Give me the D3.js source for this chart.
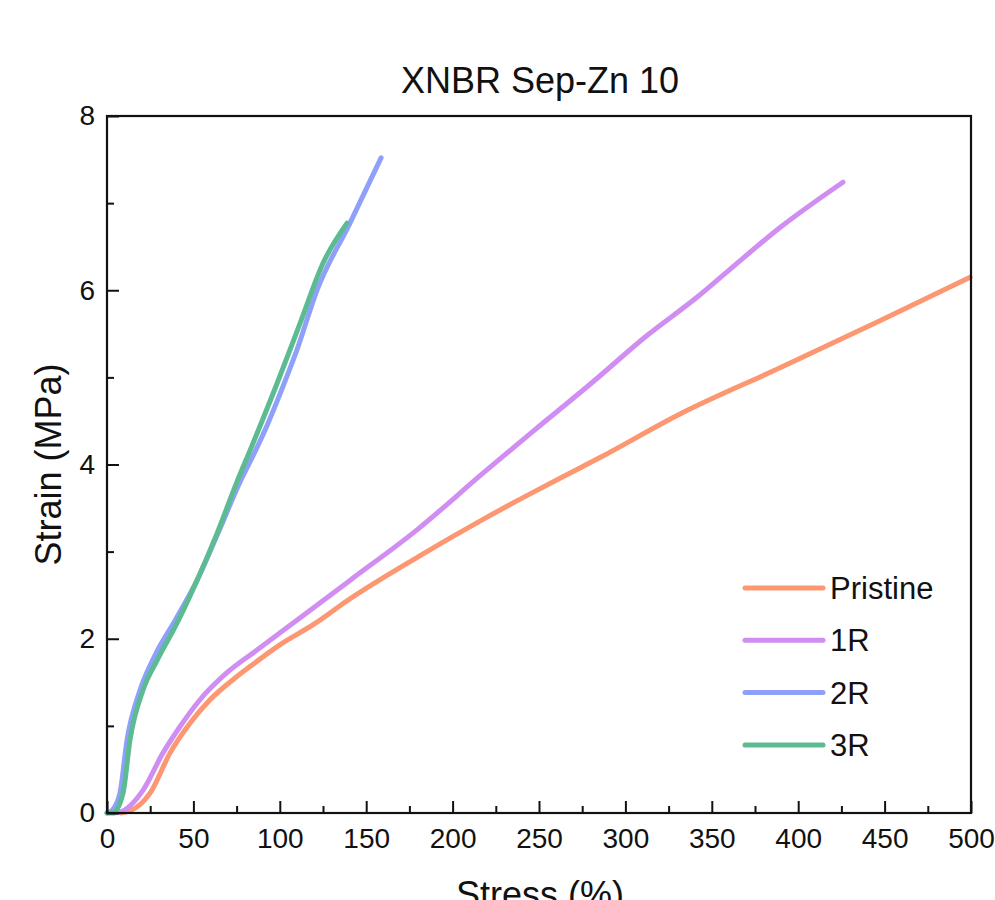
<!DOCTYPE html>
<html>
<head>
<meta charset="utf-8">
<script src="https://cdn.jsdelivr.net/npm/d3@7"></script>
<style>
  body { margin: 0; background: #fff; }
  text { font-family: "Liberation Sans", Arial, sans-serif; fill: #111; }
</style>
</head>
<body>
<div id="chart"></div>
<script>
// series names and colours
var seriesNames = ["Pristine", "1R", "2R", "3R"];
var seriesColors = ["#fc9772", "#d08ef3", "#8fa0fb", "#5cbb91"];

// stress (%) / strain (MPa)
var pristineX = [8, 13, 25, 36.5, 48, 59.6, 72.9, 84, 100, 120, 140, 180, 217.6, 246.5, 273.7, 285.3, 331.6, 389.5, 447.3, 499.5];
var pristineY = [0, 0.02, 0.23, 0.69, 1.03, 1.30, 1.53, 1.70, 1.93, 2.17, 2.45, 2.94, 3.37, 3.68, 3.96, 4.08, 4.58, 5.11, 5.65, 6.15];

var r1X = [4, 7.5, 20.8, 32.4, 42.2, 53.8, 69.4, 86.8, 140.6, 179.4, 217.6, 246.5, 281.3, 312.5, 341.4, 360.5, 389.5, 425.9];
var r1Y = [0, 0.01, 0.26, 0.69, 0.99, 1.30, 1.61, 1.87, 2.67, 3.25, 3.90, 4.38, 4.95, 5.48, 5.92, 6.24, 6.72, 7.24];

var r2X = [0, 2.9, 7.5, 11.6, 19.1, 27.8, 39.4, 52.1, 64.2, 77, 84, 92, 101.9, 110, 121.5, 140.6, 158.6];
var r2Y = [0, 0.03, 0.23, 0.84, 1.41, 1.81, 2.21, 2.67, 3.21, 3.80, 4.08, 4.42, 4.90, 5.32, 6.0, 6.77, 7.52];

var r3X = [0, 3.5, 9.3, 13.3, 20.8, 28.9, 40.5, 52.1, 63.7, 75.2, 84, 98.4, 111.7, 125, 138.9];
var r3Y = [0, 0, 0.23, 0.84, 1.41, 1.75, 2.18, 2.67, 3.21, 3.80, 4.22, 4.93, 5.62, 6.31, 6.77];

var xTicks = [0, 50, 100, 150, 200, 250, 300, 350, 400, 450, 500];
var xMinor = [25, 75, 125, 175, 225, 275, 325, 375, 425, 475];
var yTicks = [0, 2, 4, 6, 8];
var yMinor = [1, 3, 5, 7];

var margin = {top: 116, right: 24, bottom: 87, left: 107},
    width = 995 - margin.left - margin.right,
    height = 900 - margin.top - margin.bottom;

var svg = d3.select("#chart").append("svg")
    .attr("width", 995)
    .attr("height", 900);

var g = svg.append("g")
    .attr("transform", "translate(" + margin.left + "," + margin.top + ")");

var x = d3.scaleLinear().domain([0, 500]).range([0, width]);
var y = d3.scaleLinear().domain([0, 8]).range([height, 0]);

var series = [
    {name: seriesNames[0], xs: pristineX, ys: pristineY},
    {name: seriesNames[1], xs: r1X, ys: r1Y},
    {name: seriesNames[2], xs: r2X, ys: r2Y},
    {name: seriesNames[3], xs: r3X, ys: r3Y}
];

var line = d3.line()
    .x(function(d) { return x(d[0]); })
    .y(function(d) { return y(d[1]); })
    .curve(d3.curveMonotoneX);

// curves, pristine drawn first, 3R on top
series.forEach(function(s, i) {
    var pts = s.xs.map(function(v, j) { return [v, s.ys[j]]; });
    g.append("path")
        .datum(pts)
        .attr("fill", "none")
        .attr("stroke", seriesColors[i])
        .attr("stroke-width", 5)
        .attr("stroke-linecap", "round")
        .attr("stroke-linejoin", "round")
        .attr("d", line);
});

// axes with inward ticks
g.append("g")
    .attr("transform", "translate(0," + height + ")")
    .call(d3.axisBottom(x).tickValues(xTicks).tickSize(-12).tickPadding(15));
g.append("g")
    .attr("transform", "translate(0," + height + ")")
    .call(d3.axisBottom(x).tickValues(xMinor).tickSize(-7).tickFormat(""));

g.append("g")
    .call(d3.axisLeft(y).tickValues(yTicks).tickSize(-12).tickPadding(12));
g.append("g")
    .call(d3.axisLeft(y).tickValues(yMinor).tickSize(-7).tickFormat(""));

g.selectAll(".domain").remove();
g.selectAll(".tick line").attr("stroke", "#111").attr("stroke-width", 2);
g.selectAll(".tick text").style("font-size", "28px").attr("fill", "#111");

// frame
g.append("rect")
    .attr("width", width)
    .attr("height", height)
    .attr("fill", "none")
    .attr("stroke", "#111")
    .attr("stroke-width", 2.2);

// title and axis labels
svg.append("text")
    .attr("x", 540)
    .attr("y", 93)
    .attr("text-anchor", "middle")
    .style("font-size", "36px")
    .text("XNBR Sep-Zn 10");

svg.append("text")
    .attr("transform", "translate(61," + (margin.top + height / 2) + ") rotate(-90)")
    .attr("text-anchor", "middle")
    .style("font-size", "36px")
    .text("Strain (MPa)");

svg.append("text")
    .attr("x", 540)
    .attr("y", 907)
    .attr("text-anchor", "middle")
    .style("font-size", "36px")
    .text("Stress (%)");

// legend
var legend = svg.append("g").attr("transform", "translate(743,588)");
seriesNames.forEach(function(name, i) {
    var row = legend.append("g").attr("transform", "translate(0," + (i * 52.3) + ")");
    row.append("line")
        .attr("x1", 2).attr("x2", 80)
        .attr("stroke", seriesColors[i])
        .attr("stroke-width", 5)
        .attr("stroke-linecap", "round");
    row.append("text")
        .attr("x", 87)
        .attr("y", 11)
        .style("font-size", "31px")
        .text(name);
});
</script>
</body>
</html>
